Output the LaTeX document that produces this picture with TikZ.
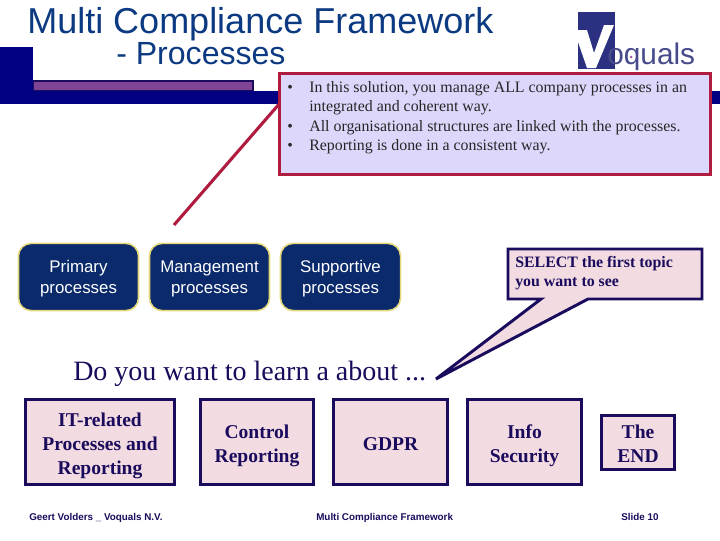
\documentclass[tikz,border=0pt]{standalone}
\usepackage{fontspec}
\setmainfont{Liberation Serif}
\newfontfamily\arialfont{Liberation Sans}
\definecolor{titleblue}{HTML}{0B3A82}
\definecolor{barnavy}{HTML}{000080}
\definecolor{barpurple}{HTML}{7F4496}
\definecolor{logoblue}{HTML}{2B3080}
\definecolor{logotext}{HTML}{474B8C}
\definecolor{logodot}{HTML}{A0609A}
\definecolor{boxink}{HTML}{1B0B5C}
\definecolor{boxpink}{HTML}{F2DCE2}
\definecolor{notered}{HTML}{B01C40}
\definecolor{notefill}{HTML}{DDD8FB}
\definecolor{btnblue}{HTML}{0B2A6B}
\definecolor{btnedge}{HTML}{E6D878}
\def\lowerline#1{\rule{0pt}{#1pt}}
\begin{document}
\begin{tikzpicture}[x=0.025cm,y=-0.025cm,
    titlelabel/.style={font=\arialfont\fontsize{25.6}{25.6}\selectfont,text=titleblue,anchor=base west,inner sep=0pt},
    notebox/.style={fill=notefill,draw=notered,line width=2.1pt},
    notetext/.style={font=\fontsize{11.3}{14}\selectfont,text=black!85,anchor=base west,inner sep=0pt},
    processbtn/.style={fill=btnblue,draw=btnedge,line width=1.1pt,rounded corners=9pt,minimum width=3.0cm,minimum height=1.68cm,
      align=center,text=white,font=\arialfont\fontsize{12}{15}\selectfont},
    topicbox/.style={fill=boxpink,draw=boxink,line width=2.1pt,align=center,text=boxink,
      font=\bfseries\fontsize{13.9}{17}\selectfont,inner sep=0pt},
    footlabel/.style={font=\arialfont\bfseries\fontsize{7}{8}\selectfont,text=boxink,anchor=base west,inner sep=0pt}]
%
\useasboundingbox (0,0) rectangle (720,540);
\fill[white] (0,0) rectangle (720,540);
%
% ============ Balken links oben ============
\fill[barnavy] (0,47) rectangle (33,104);
\fill[barnavy] (33,91) rectangle (720,104);
\fill[boxink] (33,80) rectangle (254,91);
\fill[barpurple] (34,82) rectangle (252,90);
%
% ============ Titel ============
\node[titlelabel] (title) at (27,33) {Multi Compliance Framework};
\node[titlelabel,font=\arialfont\fontsize{22.8}{22.8}\selectfont] (subtitle) at (116,64) {- Processes};
%
% ============ Logo ============
\fill[logoblue] (578,12) rectangle (615,69);
\fill[white] (578,30) -- (587,30) -- (594,53) -- (604,25) -- (614,25) -- (596,68) -- (587,68) -- (578,42) -- cycle;
\node[font=\arialfont\fontsize{21.2}{21.2}\selectfont,text=logotext,anchor=base west,inner sep=0pt] (logoname) at (607,64) {oquals};
\fill[logodot] (631,57) circle (1.5);
%
% ============ Notiz mit Linie ============
\coordinate (notetail) at (174,225);
\coordinate (noteroot) at (280,103);
\draw[notered,line width=2.2pt] (noteroot) -- (notetail);
\node[notebox,minimum width=10.775cm,minimum height=2.525cm,inner sep=0pt] (note) at (495,124) {};
\node[notetext] (bulleta) at (287,92) {•};
\node[notetext] (linea) at (309,92) {In this solution, you manage ALL company processes in an};
\node[notetext] (lineb) at (309,111) {integrated and coherent way.};
\node[notetext] (bulletb) at (287,131) {•};
\node[notetext] (linec) at (309,131) {All organisational structures are linked with the processes.};
\node[notetext] (bulletc) at (287,150) {•};
\node[notetext] (lined) at (309,150) {Reporting is done in a consistent way.};
%
% ============ Prozess-Knoepfe ============
\node[processbtn] (primary) at (78.5,277) {\lowerline{11.5}Primary\\processes};
\node[processbtn] (management) at (209.5,277) {\lowerline{11.5}Management\\processes};
\node[processbtn] (supportive) at (340.5,277) {\lowerline{11.5}Supportive\\processes};
%
% ============ Sprechblase ============
\draw[fill=boxpink,draw=boxink,line width=2.1pt,line join=miter]
  (508,249) -- (702,249) -- (702,299) -- (588,299) -- (436,379) -- (541,299) -- (508,299) -- cycle;
\node[font=\bfseries\fontsize{11.3}{13.6}\selectfont,text=boxink,anchor=base west,inner sep=0pt] (selecta) at (515,267) {SELECT the first topic};
\node[font=\bfseries\fontsize{11.3}{13.6}\selectfont,text=boxink,anchor=base west,inner sep=0pt] (selectb) at (515,286) {you want to see};
%
\node[font=\fontsize{19.9}{20}\selectfont,text=boxink,anchor=base west,inner sep=0pt] (question) at (73,380) {Do you want to learn a about ...};
%
% ============ Themen ============
\node[topicbox,minimum width=3.725cm,minimum height=2.125cm] (itrelated) at (100,442) {\lowerline{15.2}IT-related\\Processes and\\Reporting};
\node[topicbox,minimum width=2.825cm,minimum height=2.125cm] (control) at (257,442) {\lowerline{15.2}Control\\Reporting};
\node[topicbox,minimum width=2.85cm,minimum height=2.125cm] (gdpr) at (390.5,442) {\lowerline{12}GDPR};
\node[topicbox,minimum width=2.85cm,minimum height=2.125cm] (infosec) at (524.5,442) {\lowerline{15.2}Info\\Security};
\node[topicbox,minimum width=1.825cm,minimum height=1.35cm] (theend) at (638,442.5) {\lowerline{11.5}The\\END};
%
% ============ Fusszeile ============
\node[footlabel] (footauthor) at (29,520) {Geert Volders \_ Voquals N.V.};
\node[footlabel] (footname) at (316,520) {Multi Compliance Framework};
\node[footlabel] (footslide) at (621,520) {Slide 10};
%
\end{tikzpicture}
\end{document}
